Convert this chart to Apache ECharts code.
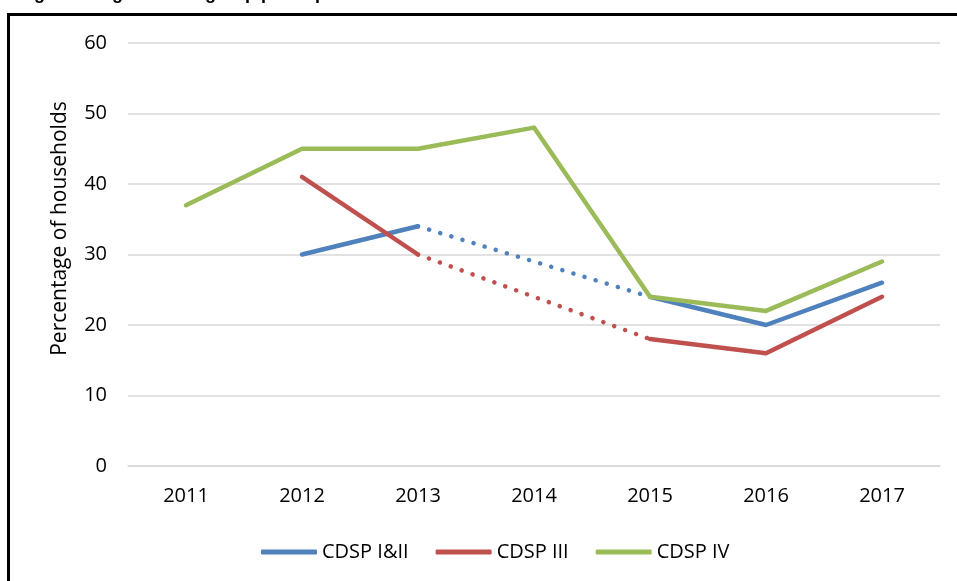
<!DOCTYPE html>
<html>
<head>
<meta charset="utf-8">
<script src="https://cdn.jsdelivr.net/npm/echarts@6/dist/echarts.min.js"></script>
<style>
  html, body { margin: 0; padding: 0; background: #fff; }
  #chart { width: 957px; height: 581px; }
</style>
</head>
<body>
<div id="chart"></div>
<script>
// data
const years = ['2011', '2012', '2013', '2014', '2015', '2016', '2017']
const cdsp12 = [null, 30, 34, null, 24, 20, 26]
const cdsp3 = [null, 41, 30, null, 18, 16, 24]
const cdsp4 = [37, 45, 45, 48, 24, 22, 29]
// dotted links across the missing 2014 survey
const cdsp12Gap = [null, null, 34, null, 24, null, null]
const cdsp3Gap = [null, null, 30, null, 18, null, null]

const blue = '#4F81BD'
const red = '#C0504D'
const green = '#9BBB59'
const font = 'Open Sans'

const chart = echarts.init(document.getElementById('chart'))

const solid = (name, data, color) => ({
  name,
  type: 'line',
  data,
  symbol: 'none',
  connectNulls: false,
  lineStyle: { color, width: 4.5, cap: 'round', join: 'round' },
  itemStyle: { color }
})

const dotted = (name, data, color) => ({
  name,
  type: 'line',
  data,
  symbol: 'none',
  connectNulls: true,
  lineStyle: { color, width: 4.5, type: [0.1, 11.5], cap: 'round' },
  itemStyle: { color }
})

const option = {
  animation: false,
  textStyle: { fontFamily: font },
  graphic: [
    {
      type: 'rect',
      shape: { x: 8.5, y: 14.5, width: 1200, height: 800 },
      style: { fill: 'none', stroke: '#000', lineWidth: 3 },
      silent: true
    },
    {
      type: 'text',
      left: 18,
      top: -15,
      style: {
        text: 'Figure 4: Agricultural group participation of household head',
        font: 'bold 18px Liberation Sans',
        fill: '#000'
      },
      silent: true
    }
  ],
  grid: { left: 128, right: 17, top: 43, bottom: 115 },
  legend: {
    data: ['CDSP I&II', 'CDSP III', 'CDSP IV'],
    left: 256,
    top: 537,
    icon: 'roundRect',
    itemWidth: 56,
    itemHeight: 5,
    itemGap: 27,
    textStyle: { fontFamily: font, fontSize: 20, color: '#000' }
  },
  xAxis: {
    type: 'category',
    data: years,
    boundaryGap: true,
    axisLine: { lineStyle: { color: '#D9D9D9', width: 1.5 } },
    axisTick: { show: false },
    axisLabel: { margin: 20, fontSize: 20, color: '#000', fontFamily: font }
  },
  yAxis: {
    type: 'value',
    min: 0,
    max: 60,
    interval: 10,
    name: 'Percentage of households',
    nameLocation: 'middle',
    nameGap: 57,
    nameTextStyle: { fontSize: 21, color: '#000', fontFamily: font, padding: [0, 0, 0, 52] },
    axisLine: { show: false },
    axisTick: { show: false },
    axisLabel: { margin: 21, fontSize: 20, color: '#000', fontFamily: font },
    splitLine: { lineStyle: { color: '#D9D9D9', width: 1.5 } }
  },
  series: [
    solid('CDSP I&II', cdsp12, blue),
    dotted('CDSP I&II gap', cdsp12Gap, blue),
    solid('CDSP III', cdsp3, red),
    dotted('CDSP III gap', cdsp3Gap, red),
    solid('CDSP IV', cdsp4, green)
  ]
}

chart.setOption(option)
window.addEventListener('resize', () => chart.resize())
</script>
</body>
</html>
